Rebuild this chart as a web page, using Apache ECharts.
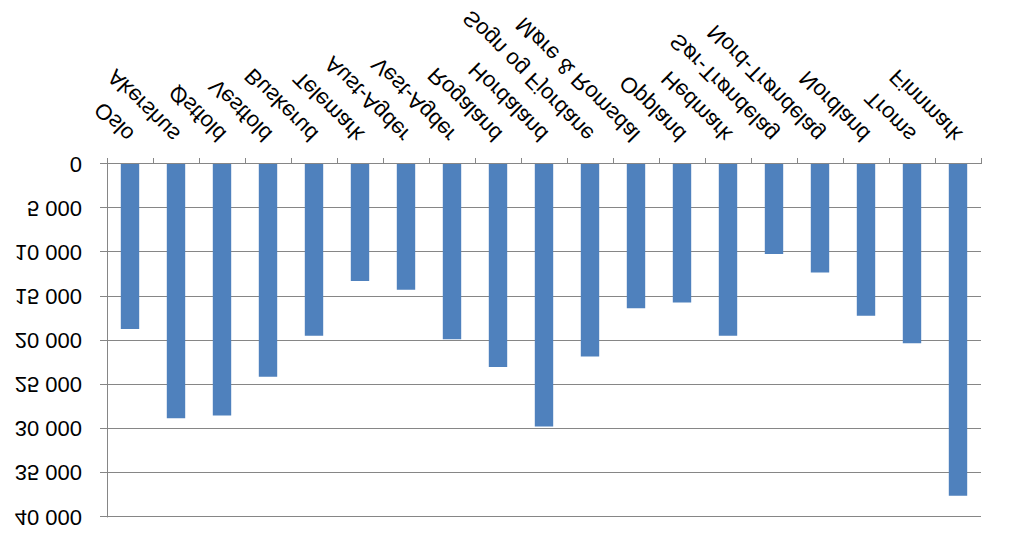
<!DOCTYPE html>
<html>
<head>
<meta charset="utf-8">
<script src="https://cdn.jsdelivr.net/npm/echarts/dist/echarts.min.js"></script>
<style>
html,body{margin:0;padding:0;background:#fff;overflow:hidden}
#c{width:1009px;height:549px;transform:scaleY(-1);transform-origin:50% 50%;}
</style>
</head>
<body>
<div id="c"></div>
<script>
const categories = ['Oslo','Akershus','Østfold','Vestfold','Buskerud','Telemark','Aust-Agder','Vest-Agder','Rogaland','Hordaland','Sogn og Fjordane','Møre & Romsdal','Oppland','Hedmark','Sør-Trøndelag','Nord-Trøndelag','Nordland','Troms','Finnmark'];
const values = [18700, 28800, 28500, 24100, 19450, 13250, 14250, 19850, 23000, 29750, 21800, 16350, 15700, 19450, 10200, 12300, 17200, 20300, 37600];
const yMin = 0;
const yMax = 40000;
const yStep = 5000;

function fmt(v){ return String(v).replace(/\B(?=(\d{3})+(?!\d))/g, ' '); }

const chart = echarts.init(document.getElementById('c'), null, {renderer:'svg'});
const axisColor = '#868686';
chart.setOption({
  animation:false,
  backgroundColor:'#ffffff',
  grid:{left:107, right:28, top:32, bottom:164, containLabel:false},
  xAxis:{
    type:'category',
    data:categories,
    axisLine:{lineStyle:{color:axisColor,width:1}},
    axisTick:{show:true,length:6,lineStyle:{color:axisColor}},
    axisLabel:{rotate:45, margin:26, interval:0, color:'#000', fontFamily:'Liberation Sans, Arial, sans-serif', fontSize:22}
  },
  yAxis:{
    type:'value',
    min:yMin, max:yMax, interval:yStep,
    axisLine:{show:true,lineStyle:{color:axisColor,width:1}},
    axisTick:{show:true,length:7,lineStyle:{color:axisColor}},
    splitLine:{show:true,lineStyle:{color:axisColor,width:1}},
    axisLabel:{formatter:fmt, margin:25, color:'#000', fontFamily:'Liberation Sans, Arial, sans-serif', fontSize:22}
  },
  series:[{
    type:'bar',
    data:values,
    barWidth:'40%',
    itemStyle:{color:'#4F81BD'}
  }]
});
</script>
</body>
</html>
